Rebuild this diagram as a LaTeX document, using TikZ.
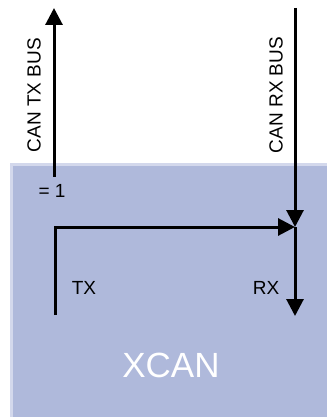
\documentclass[tikz,border=0pt]{standalone}
\usepackage{fontspec}
\setmainfont{Liberation Sans}
\usetikzlibrary{arrows.meta}
\definecolor{blockfill}{HTML}{AFB9DB}
\definecolor{blockedge}{HTML}{D3D8EC}
\tikzset{
  sig/.style={line width=3pt, -{Triangle[length=17pt,width=17pt]}},
  lbl/.style={font=\fontsize{19}{21}\selectfont, inner sep=0pt},
}

\begin{document}
\begin{tikzpicture}[x=1pt,y=-1pt]
\useasboundingbox (0,0) rectangle (327,419);
\fill[blockedge] (10,163) rectangle (327,417);
\fill[blockfill] (13,166) rectangle (327,417);
\node[font=\fontsize{35}{37}\selectfont, text=white, inner sep=0pt] (xcan) at (171,365) {XCAN};
\coordinate (txtop) at (54,8);
\coordinate (txbase) at (54,177);
\coordinate (rxtop) at (295,8);
\coordinate (junc) at (295,227);
\coordinate (txstart) at (55,315);
\coordinate (rxend) at (295,316);
\draw[sig] (txbase) -- (txtop);
\draw[sig] (rxtop) -- (junc);
\draw[sig] (txstart) |- (junc);
\draw[sig] (junc) -- (rxend);
\node[lbl, rotate=90] (txbus) at (34,95) {CAN TX BUS};
\node[lbl, rotate=90] (rxbus) at (276,95) {CAN RX BUS};
\node[lbl] (eqone) at (52,191) {= 1};
\node[lbl] (tx) at (84,288) {TX};
\node[lbl] (rx) at (266,288) {RX};
\end{tikzpicture}
\end{document}
